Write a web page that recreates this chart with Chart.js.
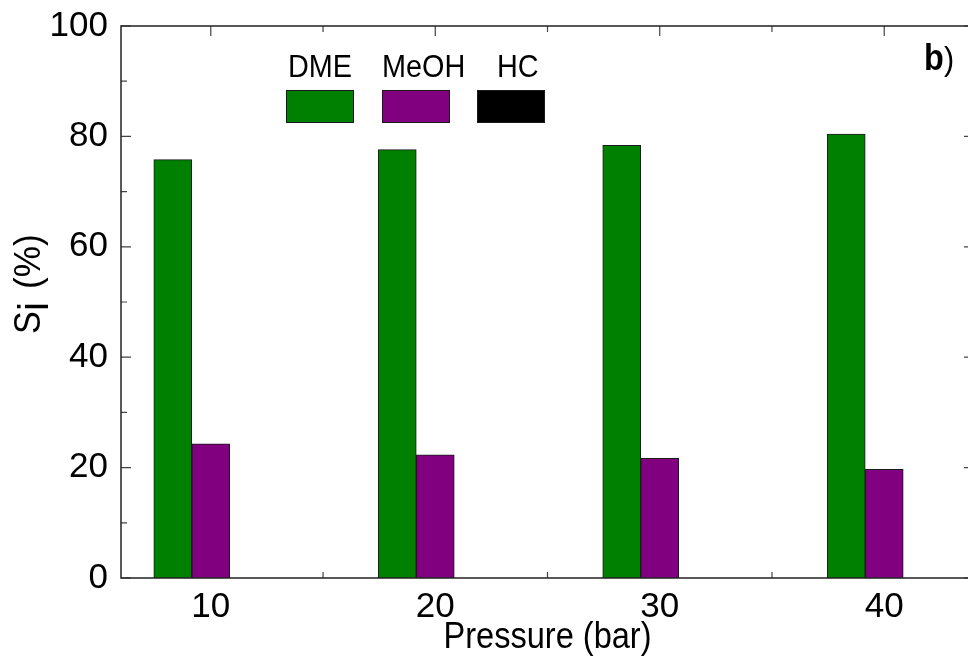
<!DOCTYPE html>
<html>
<head>
    <title>Selectivity vs pressure</title>
    <script src="https://cdn.jsdelivr.net/npm/chart.js"></script>
    <style>
        body { margin: 0; background: #fff; }
        #wrap { width: 968px; height: 661px; overflow: hidden; }
    </style>
</head>
<body>
    <div id="wrap"><canvas id="selChart" width="980" height="661"></canvas></div>

    <script>
        // Data
        var pressures = [10, 20, 30, 40];
        var seriesNames = ["DME", "MeOH", "HC"];
        var dmeValues = [75.8, 77.6, 78.4, 80.4];
        var meohValues = [24.3, 22.3, 21.7, 19.7];
        var hcValues = [0, 0, 0, 0];
        var yTickLabels = [0, 20, 40, 60, 80, 100];
        var xTickLabels = [10, 20, 30, 40];

        var colors = ["#008000", "#800080", "#000000"];
        var FONT = "'Liberation Sans', Arial, sans-serif";

        function toPoints(values) {
            return pressures.map(function (p, i) { return { x: p, y: values[i] }; });
        }

        var datasets = [dmeValues, meohValues, hcValues].map(function (vals, i) {
            return {
                label: seriesNames[i],
                data: toPoints(vals),
                backgroundColor: colors[i],
                borderColor: "#1a1a1a",
                borderWidth: 1,
                barThickness: 38
            };
        });

        // draws text squeezed horizontally, like the original figure's font
        function squeezed(ctx, text, x, y, size, sx, align, weight) {
            ctx.save();
            ctx.font = (weight || "normal") + " " + size + "px " + FONT;
            ctx.textAlign = align || "left";
            ctx.textBaseline = "alphabetic";
            ctx.translate(x, y);
            ctx.scale(sx, 1);
            ctx.fillText(text, 0, 0);
            ctx.restore();
        }

        var decor = {
            id: "decor",
            beforeDatasetsDraw: function (chart) {
                var ctx = chart.ctx, a = chart.chartArea;
                var xs = chart.scales.x, ys = chart.scales.y;
                ctx.save();
                ctx.strokeStyle = "#444";
                ctx.lineWidth = 1.2;
                ctx.beginPath();
                for (var v = 0; v <= 100; v += 10) {
                    var py = ys.getPixelForValue(v);
                    var len = yTickLabels.indexOf(v) >= 0 ? 10 : 6;
                    ctx.moveTo(a.left, py); ctx.lineTo(a.left + len, py);
                    ctx.moveTo(a.right, py); ctx.lineTo(a.right - len, py);
                }
                for (var t = 10; t <= 40; t += 5) {
                    var px = xs.getPixelForValue(t);
                    var l2 = xTickLabels.indexOf(t) >= 0 ? 10 : 6;
                    ctx.moveTo(px, a.bottom); ctx.lineTo(px, a.bottom - l2);
                    ctx.moveTo(px, a.top); ctx.lineTo(px, a.top + l2);
                }
                ctx.stroke();
                ctx.restore();
            },
            afterDatasetsDraw: function (chart) {
                var ctx = chart.ctx, a = chart.chartArea;
                ctx.save();
                // frame
                ctx.strokeStyle = "#222";
                ctx.lineWidth = 1.5;
                ctx.strokeRect(a.left, a.top, a.right - a.left, a.bottom - a.top);

                // legend: label above a colour box
                var boxX = [286, 382, 477];
                var textX = [288, 382, 497];
                ctx.fillStyle = "#000";
                chart.data.datasets.forEach(function (ds, i) {
                    squeezed(ctx, ds.label, textX[i], 77, 31, 0.93, "left");
                    ctx.fillStyle = ds.backgroundColor;
                    ctx.fillRect(boxX[i], 90, 68, 33);
                    ctx.strokeStyle = "#1a1a1a";
                    ctx.lineWidth = 1;
                    ctx.strokeRect(boxX[i] + 0.5, 90.5, 67, 32);
                    ctx.fillStyle = "#000";
                });

                // panel letter
                squeezed(ctx, "b", 924, 70, 36, 0.9, "left", "bold");
                squeezed(ctx, ")", 944, 70, 34, 0.9, "left");

                // x title
                squeezed(ctx, "Pressure (bar)", (a.left + a.right) / 2, 648, 37, 0.88, "center");

                // y title, rotated, with subscript i
                ctx.translate(40, 334);
                ctx.rotate(-Math.PI / 2);
                squeezed(ctx, "S", 0, 0, 36, 0.95, "left");
                squeezed(ctx, "i", 23, 8, 42, 0.95, "left");
                squeezed(ctx, "(%)", 45, 0, 37, 0.95, "left");
                ctx.restore();
            }
        };

        var chart = new Chart(document.getElementById("selChart"), {
            type: "bar",
            data: { datasets: datasets },
            plugins: [decor],
            options: {
                responsive: false,
                animation: false,
                layout: { padding: { top: 26, right: 6, left: 0, bottom: 0 } },
                plugins: { legend: { display: false }, tooltip: { enabled: false } },
                scales: {
                    x: {
                        type: "linear",
                        min: 6,
                        max: 44,
                        offset: false,
                        afterFit: function (s) {
                            s.height = 83;
                            s.paddingLeft = 0; s.paddingRight = 0;
                        },
                        grid: { display: false, drawTicks: false, offset: false },
                        border: { display: false },
                        ticks: {
                            stepSize: 5,
                            padding: 8,
                            color: "#000",
                            font: { family: FONT, size: 35 },
                            callback: function (v) { return xTickLabels.indexOf(v) >= 0 ? String(v) : ""; }
                        }
                    },
                    y: {
                        min: 0,
                        max: 100,
                        afterFit: function (s) {
                            s.width = 121;
                            s.paddingTop = 0; s.paddingBottom = 0;
                        },
                        grid: { display: false, drawTicks: false },
                        border: { display: false },
                        ticks: {
                            stepSize: 10,
                            padding: 13,
                            color: "#000",
                            font: { family: FONT, size: 35 },
                            callback: function (v) { return yTickLabels.indexOf(v) >= 0 ? String(v) : ""; }
                        }
                    }
                }
            }
        });
    </script>
</body>
</html>
